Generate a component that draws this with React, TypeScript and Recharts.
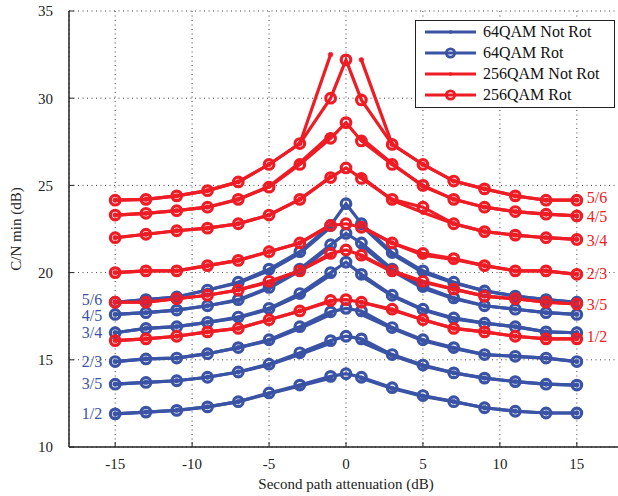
import React from 'react';
import { LineChart, Line, XAxis, YAxis, CartesianGrid, ReferenceDot, Legend, Label } from 'recharts';

const attenuation = [-15, -13, -11, -9, -7, -5, -3, -1, 0, 1, 3, 5, 7, 9, 11, 13, 15];
const xTicks = [-15, -10, -5, 0, 5, 10, 15];
const yTicks = [10, 15, 20, 25, 30, 35];
const rates = ['1/2', '3/5', '2/3', '3/4', '4/5', '5/6'];

// 64QAM rotated constellation
const q64Rot12 = [11.9, 12.0, 12.1, 12.3, 12.6, 13.1, 13.55, 14.05, 14.2, 14.0, 13.4, 12.95, 12.6, 12.25, 12.05, 11.95, 11.95];
const q64Rot35 = [13.6, 13.7, 13.8, 14.0, 14.3, 14.75, 15.4, 16.1, 16.35, 16.2, 15.3, 14.7, 14.25, 13.95, 13.75, 13.6, 13.55];
const q64Rot23 = [14.9, 15.05, 15.1, 15.35, 15.7, 16.15, 16.9, 17.75, 17.95, 17.8, 16.85, 16.15, 15.7, 15.3, 15.2, 15.1, 14.9];
const q64Rot34 = [16.55, 16.8, 16.9, 17.15, 17.45, 17.95, 18.8, 20.0, 20.6, 19.9, 18.7, 17.9, 17.4, 17.1, 16.9, 16.6, 16.55];
const q64Rot45 = [17.6, 17.7, 17.85, 18.1, 18.45, 19.15, 20.2, 21.6, 22.25, 21.7, 20.2, 19.2, 18.55, 18.1, 17.9, 17.7, 17.6];
const q64Rot56 = [18.3, 18.45, 18.6, 19.0, 19.45, 20.2, 21.2, 22.7, 23.95, 22.8, 21.15, 20.1, 19.45, 18.95, 18.65, 18.45, 18.3];

// 64QAM non-rotated constellation (no value at 0 dB)
const q64Not12 = [11.9, 12.0, 12.1, 12.3, 12.6, 13.05, 13.5, 13.95, null, 13.95, 13.35, 12.9, 12.6, 12.25, 12.05, 11.95, 11.95];
const q64Not35 = [13.6, 13.7, 13.8, 14.0, 14.3, 14.7, 15.3, 15.95, null, 16.0, 15.25, 14.65, 14.25, 13.95, 13.75, 13.6, 13.55];
const q64Not23 = [14.9, 15.05, 15.1, 15.35, 15.7, 16.1, 16.8, 17.6, null, 17.6, 16.8, 16.1, 15.65, 15.3, 15.2, 15.1, 14.9];
const q64Not34 = [16.55, 16.8, 16.9, 17.15, 17.4, 17.9, 18.7, 19.85, null, 19.8, 18.65, 17.85, 17.35, 17.1, 16.9, 16.6, 16.55];
const q64Not45 = [17.6, 17.7, 17.85, 18.1, 18.4, 19.1, 20.1, 21.5, null, 21.55, 20.1, 19.1, 18.5, 18.1, 17.9, 17.7, 17.6];
const q64Not56 = [18.3, 18.45, 18.6, 19.0, 19.4, 20.1, 21.1, 22.6, null, 22.7, 21.05, 20.0, 19.4, 18.95, 18.65, 18.45, 18.3];

// 256QAM rotated constellation
const q256Rot12 = [16.1, 16.2, 16.35, 16.6, 16.8, 17.3, 17.8, 18.4, 18.45, 18.3, 17.9, 17.3, 16.8, 16.6, 16.35, 16.2, 16.2];
const q256Rot35 = [18.3, 18.3, 18.5, 18.7, 19.0, 19.5, 20.1, 21.1, 21.3, 21.0, 20.1, 19.5, 19.05, 18.65, 18.5, 18.3, 18.2];
const q256Rot23 = [20.0, 20.1, 20.1, 20.4, 20.7, 21.2, 21.7, 22.7, 22.8, 22.6, 21.7, 21.1, 20.8, 20.4, 20.1, 20.1, 19.9];
const q256Rot34 = [22.0, 22.2, 22.4, 22.55, 22.8, 23.3, 24.2, 25.45, 26.0, 25.4, 24.2, 23.75, 22.8, 22.35, 22.15, 22.0, 21.9];
const q256Rot45 = [23.3, 23.4, 23.55, 23.75, 24.2, 24.9, 26.2, 27.7, 28.6, 27.55, 26.2, 25.0, 24.2, 23.75, 23.5, 23.35, 23.25];
const q256Rot56 = [24.15, 24.2, 24.4, 24.7, 25.2, 26.2, 27.4, 30.0, 32.2, 29.9, 27.35, 26.2, 25.25, 24.8, 24.4, 24.15, 24.15];

// 256QAM non-rotated constellation (no value at 0 dB)
const q256Not12 = [16.1, 16.2, 16.35, 16.6, 16.8, 17.3, 17.8, 18.35, null, 18.3, 17.85, 17.3, 16.8, 16.6, 16.35, 16.2, 16.2];
const q256Not35 = [18.3, 18.3, 18.5, 18.7, 19.0, 19.45, 20.1, 21.0, null, 20.95, 20.05, 19.45, 19.05, 18.65, 18.5, 18.3, 18.2];
const q256Not23 = [20.0, 20.1, 20.1, 20.4, 20.7, 21.2, 21.7, 22.75, null, 22.65, 21.7, 21.0, 20.75, 20.4, 20.1, 20.1, 19.9];
const q256Not34 = [22.0, 22.2, 22.4, 22.55, 22.8, 23.3, 24.2, 25.5, null, 25.5, 24.15, 23.45, 22.8, 22.35, 22.15, 22.0, 21.9];
const q256Not45 = [23.3, 23.4, 23.55, 23.75, 24.2, 24.95, 26.3, 27.9, null, 27.7, 26.25, 24.95, 24.2, 23.75, 23.5, 23.35, 23.25];
const q256Not56 = [24.15, 24.2, 24.4, 24.7, 25.2, 26.2, 27.4, 32.5, null, 32.2, 27.35, 26.2, 25.25, 24.8, 24.4, 24.15, 24.15];

// positions (dB) where the code-rate labels are written
const blueLabelAt = [11.95, 13.65, 14.9, 16.55, 17.55, 18.45];
const redLabelAt = [16.35, 18.2, 19.95, 21.85, 23.2, 24.3];

const BLUE = '#3a53a4';
const RED = '#ee1c25';
const FONT = "'Liberation Serif', 'Times New Roman', Times, serif";
const LW = 3.2;

const series = [
  { key: 'n64', color: BLUE, rot: false, arrays: [q64Not12, q64Not35, q64Not23, q64Not34, q64Not45, q64Not56] },
  { key: 'r64', color: BLUE, rot: true, arrays: [q64Rot12, q64Rot35, q64Rot23, q64Rot34, q64Rot45, q64Rot56] },
  { key: 'n256', color: RED, rot: false, arrays: [q256Not12, q256Not35, q256Not23, q256Not34, q256Not45, q256Not56] },
  { key: 'r256', color: RED, rot: true, arrays: [q256Rot12, q256Rot35, q256Rot23, q256Rot34, q256Rot45, q256Rot56] },
];

const data = attenuation.map((x, i) => {
  const row: Record<string, number | null> = { x };
  series.forEach((s) => s.arrays.forEach((arr, j) => { row[`${s.key}_${j}`] = arr[i]; }));
  return row;
});

const legendEntries = [
  { label: '64QAM Not Rot', color: BLUE, rot: false },
  { label: '64QAM Rot', color: BLUE, rot: true },
  { label: '256QAM Not Rot', color: RED, rot: false },
  { label: '256QAM Rot', color: RED, rot: true },
];

const LegendBox = () => (
  <div style={{ width: 200, height: 88, boxSizing: 'border-box', border: '1.3px solid #222', background: '#fff', position: 'relative', fontFamily: FONT, fontSize: 16, color: '#111' }}>
    {legendEntries.map((e, i) => (
      <div key={e.label} style={{ position: 'absolute', left: 9, top: 1 + i * 20.9, height: 20, display: 'flex', alignItems: 'center', whiteSpace: 'nowrap' }}>
        <svg width={52} height={20} style={{ display: 'block' }}>
          <line x1={0} y1={10} x2={51} y2={10} stroke={e.color} strokeWidth={3} />
          {e.rot ? (
            <circle cx={25.5} cy={10} r={4.2} fill="none" stroke={e.color} strokeWidth={2.8} />
          ) : (
            <circle cx={25.5} cy={10} r={1.8} fill={e.color} />
          )}
        </svg>
        <span style={{ marginLeft: 6, lineHeight: '20px' }}>{e.label}</span>
      </div>
    ))}
  </div>
);

const axisLine = { stroke: '#222', strokeWidth: 1.5 };
const tickLine = { stroke: '#222', strokeWidth: 1 };

export default function App() {
  return (
    <div style={{ position: 'absolute', left: 0, top: 0, width: 618, height: 496, overflow: 'hidden', background: '#fff' }}>
      <LineChart width={640} height={496} data={data} margin={{ top: 11, right: 17, bottom: 0, left: 0 }}>
        <CartesianGrid stroke="#444" strokeDasharray="1 3.5" strokeWidth={1} />
        <XAxis
          type="number"
          dataKey="x"
          domain={[-18, 18]}
          ticks={xTicks}
          allowDataOverflow
          height={49}
          axisLine={axisLine}
          tickLine={tickLine}
          tickSize={-5}
          tickMargin={16}
          tick={{ fill: '#222', fontSize: 15, fontFamily: FONT }}
        >
          <Label value="Second path attenuation (dB)" position="insideBottom" offset={7} style={{ fill: '#222', fontSize: 15, fontFamily: FONT }} />
        </XAxis>
        <XAxis
          xAxisId="top"
          orientation="top"
          type="number"
          dataKey="x"
          domain={[-18, 18]}
          ticks={xTicks}
          allowDataOverflow
          height={0}
          axisLine={axisLine}
          tickLine={tickLine}
          tickSize={-5}
          tickFormatter={() => ''}
        />
        <YAxis
          type="number"
          domain={[10, 35]}
          ticks={yTicks}
          allowDataOverflow
          width={69}
          axisLine={axisLine}
          tickLine={tickLine}
          tickSize={-5}
          tickMargin={21}
          tick={{ fill: '#222', fontSize: 15, fontFamily: FONT }}
        >
          <Label value="C/N min (dB)" angle={-90} position="insideLeft" offset={16} style={{ fill: '#222', fontSize: 15, fontFamily: FONT, textAnchor: 'middle' }} />
        </YAxis>
        {series.map((s) =>
          s.arrays.map((_, j) => (
            <Line
              key={`${s.key}_${j}`}
              dataKey={`${s.key}_${j}`}
              stroke={s.color}
              strokeWidth={LW}
              isAnimationActive={false}
              activeDot={false}
              dot={s.rot ? { r: 4.8, fill: 'none', stroke: s.color, strokeWidth: 3.2 } : { r: 2.4, fill: s.color, stroke: s.color, strokeWidth: 0.5 }}
            />
          ))
        )}
        {rates.map((r, j) => (
          <ReferenceDot key={`bl${r}`} x={-15} y={blueLabelAt[j]} r={0} stroke="none" fill="none"
            label={{ value: r, position: 'left', offset: 13, fill: BLUE, fontSize: 16, fontFamily: FONT }} />
        ))}
        {rates.map((r, j) => (
          <ReferenceDot key={`rl${r}`} x={15} y={redLabelAt[j]} r={0} stroke="none" fill="none"
            label={{ value: r, position: 'right', offset: 10, fill: RED, fontSize: 16, fontFamily: FONT }} />
        ))}
        <Legend layout="vertical" align="center" verticalAlign="middle" content={() => <LegendBox />}
          wrapperStyle={{ left: 415, top: 20, width: 200, height: 88 }} />
      </LineChart>
    </div>
  );
}
